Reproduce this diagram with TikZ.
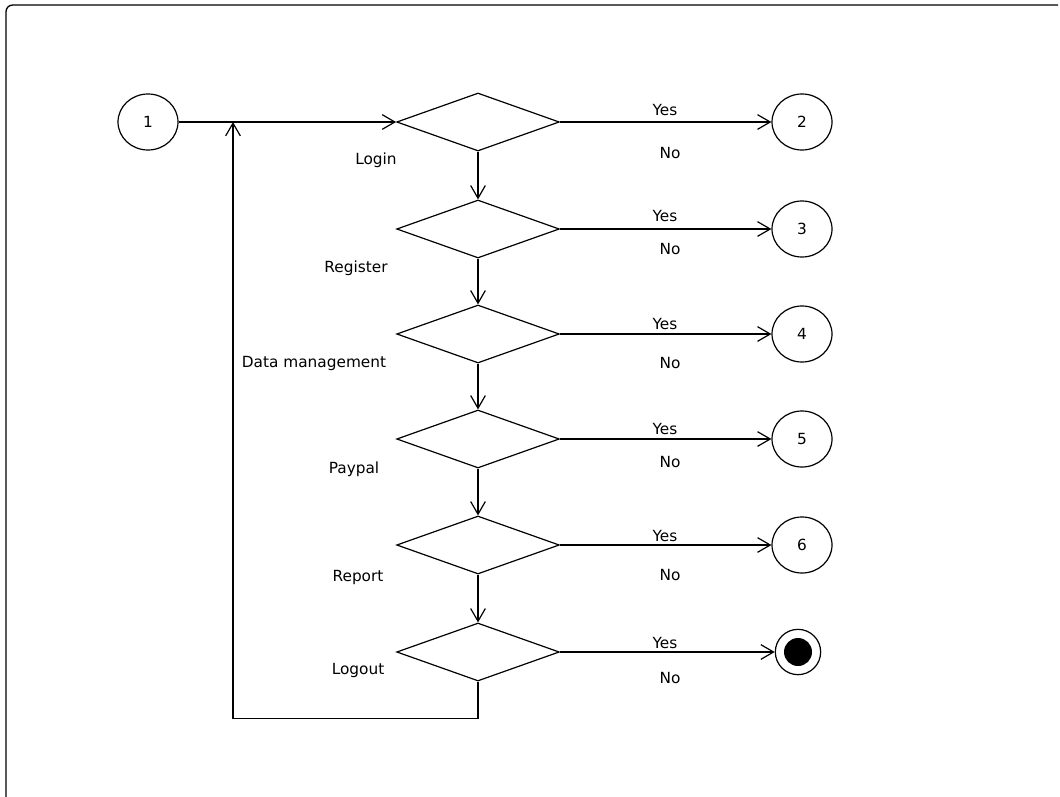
\documentclass[tikz,border=0pt]{standalone}
\usepackage{fontspec}
\setmainfont{DejaVu Sans}
\usetikzlibrary{shapes.geometric,arrows.meta}
\tikzset{
  dec/.style={draw, shape=diamond, minimum width=122pt, minimum height=43.5pt, inner sep=0pt, line width=0.9pt},
  state/.style={draw, ellipse, minimum width=45pt, minimum height=42pt, inner sep=0pt, line width=0.9pt, font=\fontsize{11.5}{13}\selectfont},
  flow/.style={line width=0.9pt, -{Straight Barb[length=9.5pt,width=11pt,line width=0.9pt]}},
  lbl/.style={font=\fontsize{11.5}{13}\selectfont, inner sep=0pt},
}
\begin{document}
\begin{tikzpicture}[x=0.75pt,y=-0.75pt]
\useasboundingbox (0,0) rectangle (1060,796);
\draw[line width=1pt, rounded corners=5pt] (6,800) -- (6,5) -- (1058,5);

\node[state] (c1) at (148,122) {1};
\node[dec] (d1) at (478,122) {};
\node[dec] (d2) at (478,229) {};
\node[dec] (d3) at (478,334) {};
\node[dec] (d4) at (478,439) {};
\node[dec] (d5) at (478,545) {};
\node[dec] (d6) at (478,652) {};

\node[state] (c2) at (802,122) {2};
\node[state] (c3) at (802,229) {3};
\node[state] (c4) at (802,334) {4};
\node[state] (c5) at (802,439) {5};
\node[state] (c6) at (802,545) {6};
\node[draw, circle, minimum size=34pt, inner sep=0pt, line width=0.9pt] (end) at (798,652) {};
\node[fill=black, circle, minimum size=21pt, inner sep=0pt] (endin) at (end.center) {};

\coordinate (j) at (233,122);

\draw[flow] (c1) -- (d1);
\foreach \a/\b in {d1/d2,d2/d3,d3/d4,d4/d5,d5/d6}{
  \draw[flow] (\a.south) -- (\b.north);
}
\draw[flow] (d1.east) -- (c2.west);
\draw[flow] (d2.east) -- (c3.west);
\draw[flow] (d3.east) -- (c4.west);
\draw[flow] (d4.east) -- (c5.west);
\draw[flow] (d5.east) -- (c6.west);
\draw[flow] (d6.east) -- (end.west);
\draw[flow] (d6.south) -- ++(0,37) -| (j);

\node[lbl] (l1) at (376,160) {Login};
\node[lbl] (l2) at (356,268) {Register};
\node[lbl] (l3) at (314,364) {Data management};
\node[lbl] (l4) at (354,469) {Paypal};
\node[lbl] (l5) at (358,577) {Report};
\node[lbl] (l6) at (358,670) {Logout};

\foreach \y/\n in {110/y1,216/y2,324/y3,429/y4,536/y5,643/y6}{
  \node[lbl] (\n) at (665,\y) {Yes};
}
\foreach \y/\n in {153/n1,249/n2,363/n3,462/n4,575/n5,678/n6}{
  \node[lbl] (\n) at (670,\y) {No};
}
\end{tikzpicture}
\end{document}
